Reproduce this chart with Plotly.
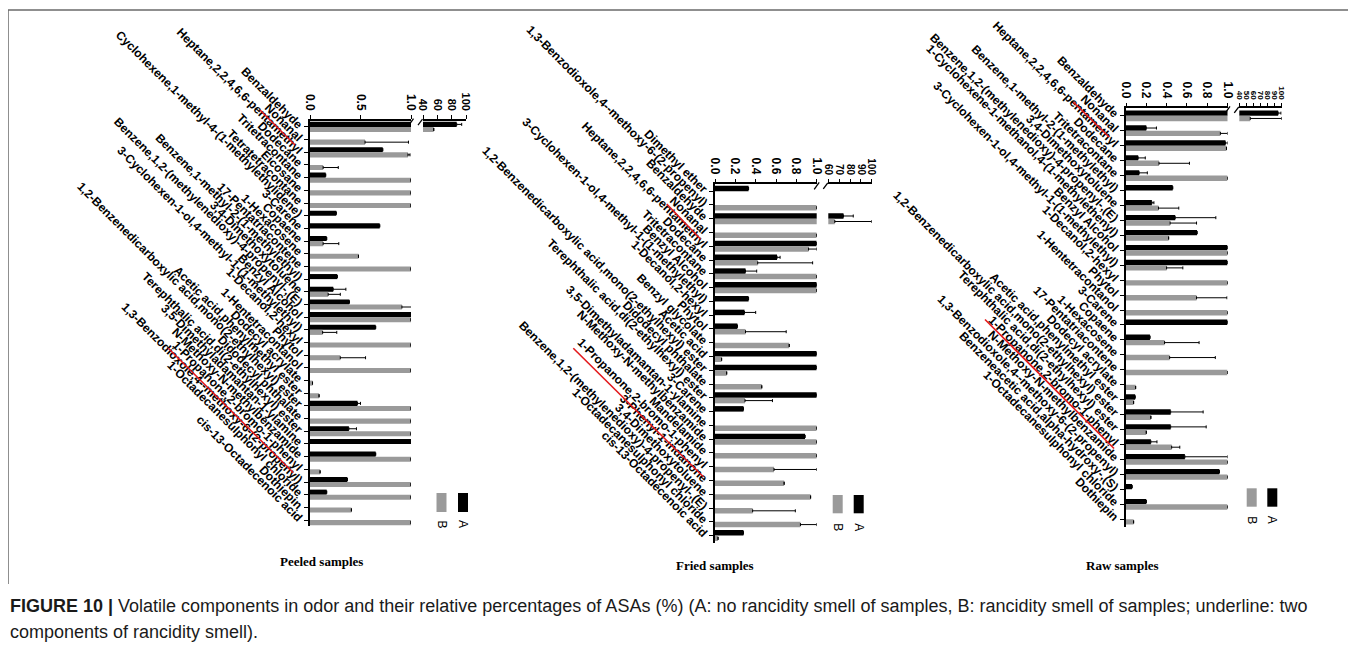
import plotly.graph_objects as go

# page body has an 8px margin: the figure is drawn at (8, 8)
OFF = 8
W, H = 1356 - OFF, 660 - OFF

# ---------------- data ----------------
peeled_cats = [
    "Benzaldehyde", "Nonanal", "Heptane,2,2,4,6,6-pentamethyl", "Dodecane", "Tritetracontane",
    "Eicosane", "Tetratetracontane", "Cyclohexene,1-methyl-4-(1-methylethylidene)", "3-Carene",
    "Copaene", "1-Hexacosene", "17-Pentatriacontene", "Benzene,1-methyl-2-(1-methylethyl)",
    "3,4-Dimethoxytoluene", "Benzene,1,2-(methylenedioxy)-4-propenyl-,(E)", "Benzyl Alcohol",
    "3-Cyclohexen-1-ol,4-methyl-1-(1-methylethyl)", "1-Decanol,2-hexyl", "Phytol",
    "1-Hentetracontanol", "Dodecyl acrylate", "Acetic acid,phenylmethyl ester",
    "1,2-Benzenedicarboxylic acid,mono(2-ethylhexyl) ester", "Didodecyl phthalate",
    "Terephthalic acid,di(2-ethylhexyl) ester", "3,5-Dimethyladamantan-1-ylamine",
    "N-Methoxy-N-methylbenzamide", "1-Propanone,2-bromo-1-phenyl",
    "1,3-Benzodioxole,4--methoxy-6-(2-propenyl)", "1-Octadecanesulphonyl chloride", "Dothiepin",
    "cis-13-Octadecenoic acid"]
peeled_a = [87, None, 0.72, None, 0.155, None, None, 0.26, 0.69, 0.165, None, None, 0.27, 0.23,
            0.39, 1.0, 0.65, None, None, None, None, None, 0.47, None, 0.385, 1.0, 0.65, None,
            0.37, 0.165, None, None]
peeled_a_err = [7, None, None, None, None, None, None, None, None, None, None, None, None, 0.125,
                None, None, None, None, None, None, None, None, 0.03, None, 0.075, None, None, None,
                None, None, None, None]
peeled_b = [55, 0.545, 0.97, 0.13, 1.0, 1.0, 1.0, None, None, 0.13, 0.48, 1.0, None, 0.18, 0.91,
            1.0, 0.125, 1.0, 0.30, 1.0, 0.025, 0.09, 1.0, 1.0, 1.0, None, 1.0, 0.10, 1.0, 1.0,
            0.41, 1.0]
peeled_b_err = [None, 0.43, 0.02, 0.15, None, None, None, None, None, 0.155, None, None, None, 0.12,
                0.10, None, 0.14, None, 0.25, None, None, None, None, None, None, None, None, None,
                None, None, None, None]

fried_cats = [
    "Dimethyl ether", "1,3-Benzodioxole,4--methoxy-6-(2-propenyl)", "Benzaldehyde", "Nonanal",
    "Heptane,2,2,4,6,6-pentamethyl", "Dodecane", "Tritetracontane", "Benzyl Alcohol",
    "3-Cyclohexen-1-ol,4-methyl-1-(1-methylethyl)", "1-Decanol,2-hexyl", "Phytol",
    "Benzyl glycolate", "Acetic acid", "1,2-Benzenedicarboxylic acid,mono(2-ethylhexyl) ester",
    "Didodecyl phthalate", "Terephthalic acid,di(2-ethylhexyl) ester", "3-Carene",
    "3,5-Dimethyladamantan-1-ylamine", "N-Methoxy-N-methylbenzamide", "Mandelamide",
    "1-Propanone,2-bromo-1-phenyl", "3-Phenyl-1-indanone", "3,4-Dimethoxytoluene",
    "Benzene,1,2-(methylenedioxy)-4-propenyl-,(E)", "1-Octadecanesulphonyl chloride",
    "cis-13-Octadecenoic acid"]
fried_a = [0.33, None, 74, None, 1.0, 0.61, 0.30, 1.0, 0.33, 0.29, 0.22, None, 1.0, 1.0, None,
           1.0, 0.28, None, 0.885, None, None, None, None, None, None, 0.28]
fried_a_err = [None, None, 9, None, None, 0.03, 0.11, None, None, 0.11, None, None, None, None,
               None, None, None, None, None, None, None, None, None, None, None, None]
fried_b = [None, 1.0, 66, 1.0, 0.92, 0.42, 1.0, 1.0, None, None, 0.30, 0.73, 0.065, 0.115, 0.46,
           0.295, None, 1.0, 1.0, 1.0, 0.58, 0.68, 0.94, 0.37, 0.84, 0.03]
fried_b_err = [None, None, 34, None, 0.08, 0.54, None, None, None, None, 0.40, None, None, None,
               None, 0.27, None, None, None, None, 0.42, None, None, 0.42, 0.16, None]

raw_cats = [
    "Benzaldehyde", "Nonanal", "Heptane,2,2,4,6,6-pentamethyl", "Dodecane", "Tritetracontane",
    "Benzene,1-methyl-2-(1-methylethyl)", "3,4-Dimethoxytoluene",
    "Benzene,1,2-(methylenedioxy)-4-propenyl-,(E)", "1-Cyclohexene-1-methanol,4-(1-methylethenyl)",
    "Benzyl Alcohol", "3-Cyclohexen-1-ol,4-methyl-1-(1-methylethyl)", "1-Decanol,2-hexyl",
    "Phytol", "1-Hentetracontanol", "3-Carene", "Copaene", "1-Hexacosene", "17-Pentatriacontene",
    "Dodecyl acrylate", "Acetic acid,phenylmethyl ester",
    "1,2-Benzenedicarboxylic acid,mono(2-ethylhexyl) ester",
    "Terephthalic acid,di(2-ethylhexyl) ester", "1-Propanone,2-bromo-1-phenyl",
    "N-Methoxy-N-methylbenzamide", "1,3-Benzodioxole,4--methoxy-6-(2-propenyl)",
    "Benzeneacetic acid,alpha-hydroxy-,(S)", "1-Octadecanesulphonyl chloride", "Dothiepin"]
raw_a = [95, 0.20, 0.98, 0.12, 0.13, 0.46, 0.255, 0.485, 0.70, 1.0, 1.0, None, None, None, 1.0,
         0.236, None, None, None, 0.09, 0.44, 0.44, 0.245, 0.58, 0.92, 0.06, 0.20, None]
raw_a_err = [4, 0.10, 0.02, 0.07, 0.08, None, 0.02, 0.40, None, None, None, None, None, None, None,
             None, None, None, None, None, 0.32, 0.35, 0.06, 0.42, None, None, None, None]
raw_b = [55.5, 0.93, 0.99, 0.325, 1.0, None, 0.32, 0.435, 0.42, 1.0, 0.40, 1.0, 0.695, 1.0, None,
         0.38, 0.43, 1.0, 0.095, 0.075, 0.245, 0.20, 0.45, 1.0, 1.0, None, 1.0, 0.075]
raw_b_err = [44.5, 0.07, None, 0.30, None, None, 0.20, 0.26, None, None, 0.16, None, 0.30, None,
             None, 0.34, 0.45, None, None, None, None, None, 0.08, None, None, None, None, None]

panel_titles = ["Peeled samples", "Fried samples", "Raw samples"]
series_names = ["A", "B"]
caption_1 = ("<b>FIGURE 10 |</b> Volatile components in odor and their relative percentages of ASAs (%) "
             "(A: no rancidity smell of samples, B: rancidity smell of samples; underline: two")
caption_2 = "components of rancidity smell)."

# ---------------- layout helpers (screen pixels -> paper) ----------------
def fx(p):
    return (p - OFF) / W


def fy(p):
    return 1 - (p - OFF) / H


BLACK = "#000000"
GRAY = "#9a9a9a"
FONT = "Liberation Sans"

panels = [
    dict(cats=peeled_cats, a=peeled_a, ae=peeled_a_err, b=peeled_b, be=peeled_b_err,
         main=(310, 411), brk=(423, 466), top=120.6, bottom=526.4,
         ticks=[0, 0.5, 1.0], brange=[40, 100], bticks=[40, 60, 80, 100], bsize=11, w=0.4,
         title=(321, 561), leg=(441.5, 463, 493, 512), legy=524,
         red=[(260, 110, 295, 145), (168.3, 348.3, 293.3, 472.7)]),
    dict(cats=fried_cats, a=fried_a, ae=fried_a_err, b=fried_b, be=fried_b_err,
         main=(715, 816.7), brk=(828.3, 871.7), top=184.3, bottom=542.5,
         ticks=[0, 0.2, 0.4, 0.6, 0.8, 1.0], brange=[60, 100], bticks=[60, 70, 80, 90, 100],
         bsize=10, w=0.4,
         title=(715, 565), leg=(837.7, 858.7, 495, 513.3), legy=527,
         red=[(666.7, 204, 700.7, 239.3), (573.3, 348.3, 703.3, 476.7)]),
    dict(cats=raw_cats, a=raw_a, ae=raw_a_err, b=raw_b, be=raw_b_err,
         main=(1126, 1227.5), brk=(1239.3, 1281.7), top=108.3, bottom=526.7,
         ticks=[0, 0.2, 0.4, 0.6, 0.8, 1.0], brange=[40, 100],
         bticks=[40, 50, 60, 70, 80, 90, 100], bsize=8, w=0.36,
         title=(1122, 565), leg=(1251.7, 1272.3, 488.3, 506.7), legy=520,
         red=[(1073.3, 102, 1109.3, 137.3), (985, 319.5, 1114, 448.5)]),
]

fig = go.Figure()
layout = {}
shapes = []
annotations = []

tickfont = dict(family=FONT, size=12, color=BLACK, weight="bold")

for i, p in enumerate(panels):
    xm = "x" + ("" if i == 0 else str(2 * i + 1))
    xb = "x" + str(2 * i + 2)
    yn = "y" + ("" if i == 0 else str(i + 1))
    xm_key = "xaxis" + ("" if i == 0 else str(2 * i + 1))
    xb_key = "xaxis" + str(2 * i + 2)
    y_key = "yaxis" + ("" if i == 0 else str(i + 1))
    n = len(p["cats"])
    w = p["w"]

    for xref in (xm, xb):
        for vals, errs, col, off in ((p["a"], p["ae"], BLACK, -w), (p["b"], p["be"], GRAY, 0.0)):
            minus = [0 if e is not None else None for e in errs]
            fig.add_trace(go.Bar(
                y=p["cats"], x=vals, orientation="h", xaxis=xref, yaxis=yn,
                marker=dict(color=col, line=dict(width=0)), width=w, offset=off,
                error_x=dict(type="data", array=errs, arrayminus=minus, symmetric=False,
                             color=BLACK, thickness=1, width=1.5),
                showlegend=False, hoverinfo="skip"))

    x0, x1 = p["main"]
    b0, b1 = p["brk"]
    common = dict(showgrid=False, zeroline=False, fixedrange=True, automargin=False,
                  showline=True, linecolor=BLACK, linewidth=1.6, ticks="outside", ticklen=4,
                  tickwidth=1.2, tickcolor=BLACK)
    layout[y_key] = dict(
        domain=[fy(p["bottom"]), fy(p["top"])], anchor=xm, type="category",
        categoryorder="array", categoryarray=p["cats"], range=[n - 0.5, -0.5],
        tickmode="array", tickvals=p["cats"], ticktext=p["cats"],
        tickangle=45, tickfont=tickfont, **common)
    layout[xm_key] = dict(
        domain=[fx(x0), fx(x1)], anchor=yn, side="top", range=[0, 1.0],
        tickmode="array", tickvals=p["ticks"], ticktext=["%.1f" % t for t in p["ticks"]],
        tickangle=90, tickfont=tickfont, **common)
    layout[xb_key] = dict(
        domain=[fx(b0), fx(b1)], anchor=yn, side="top", range=p["brange"],
        tickmode="array", tickvals=p["bticks"], ticktext=[str(t) for t in p["bticks"]],
        tickangle=90, tickfont=dict(family=FONT, size=p["bsize"], color=BLACK, weight="bold"),
        **common)

    # axis break marks
    t = p["top"]
    for (sx0, sy0, sx1, sy1) in ((x1 - 2.5, t + 5, x1 + 2.5, t - 2),
                                 (b0 - 5, t + 4.5, b0 - 0.5, t - 1.5)):
        shapes.append(dict(type="line", xref="paper", yref="paper",
                           x0=fx(sx0), y0=fy(sy0), x1=fx(sx1), y1=fy(sy1),
                           line=dict(color=BLACK, width=1.3)))

    # red underlines
    for (rx0, ry0, rx1, ry1) in p["red"]:
        shapes.append(dict(type="line", xref="paper", yref="paper",
                           x0=fx(rx0), y0=fy(ry0), x1=fx(rx1), y1=fy(ry1),
                           line=dict(color="#e3191c", width=1.6)))

    # legend (rotated, as in reference)
    lb, la, ly0, ly1 = p["leg"]
    for cx, col, name in ((la, BLACK, series_names[0]), (lb, GRAY, series_names[1])):
        shapes.append(dict(type="rect", xref="paper", yref="paper",
                           x0=fx(cx - 5), x1=fx(cx + 5), y0=fy(ly1), y1=fy(ly0),
                           fillcolor=col, line=dict(width=0)))
        annotations.append(dict(text=name, xref="paper", yref="paper", x=fx(cx), y=fy(p["legy"]),
                                showarrow=False, textangle=90, xanchor="center", yanchor="middle",
                                font=dict(family=FONT, size=12, color=BLACK)))

    # panel title
    tx, ty = p["title"]
    annotations.append(dict(text="<b>" + panel_titles[i] + "</b>", xref="paper", yref="paper",
                            x=fx(tx), y=fy(ty), showarrow=False, xanchor="center",
                            yanchor="middle",
                            font=dict(family="Liberation Serif", size=13, color=BLACK)))

# frame around the figure part
for (a0, a1, c0, c1) in ((8, 10, 8, 584), (8, 10, 1353, 10), (1353, 10, 1353, 584)):
    shapes.append(dict(type="line", xref="paper", yref="paper",
                       x0=fx(a0), y0=fy(a1), x1=fx(c0), y1=fy(c1),
                       line=dict(color="#6a6a6a", width=1.5)))

annotations.append(dict(text=caption_1, xref="paper", yref="paper", x=fx(8), y=fy(606),
                        showarrow=False, xanchor="left", yanchor="middle",
                        font=dict(family=FONT, size=18, color="#1a1a1a")))
annotations.append(dict(text=caption_2, xref="paper", yref="paper", x=fx(8), y=fy(632),
                        showarrow=False, xanchor="left", yanchor="middle",
                        font=dict(family=FONT, size=18, color="#1a1a1a")))

fig.update_layout(
    template="none",
    width=W, height=H, autosize=False,
    margin=dict(l=0, r=0, t=0, b=0, pad=0),
    paper_bgcolor="white", plot_bgcolor="rgba(0,0,0,0)",
    barmode="overlay", showlegend=False,
    shapes=shapes, annotations=annotations, **layout)

fig.write_html("out.html")
